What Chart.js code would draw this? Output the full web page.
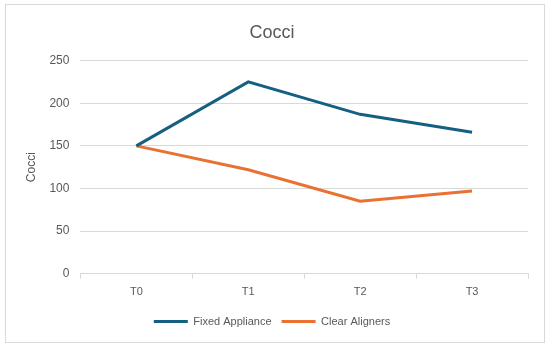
<!DOCTYPE html>
<html>
<head>
<meta charset="utf-8">
<script src="https://cdn.jsdelivr.net/npm/chart.js@4"></script>
<style>
  body { margin: 0; background: #fff; }
  #box { position: absolute; left: 5px; top: 4px; width: 538px; height: 337px; border: 1px solid #d9d9d9; }
</style>
</head>
<body>
<div id="box"><canvas id="myChart" width="538" height="337"></canvas></div>
<script>
const categories = ['T0', 'T1', 'T2', 'T3'];
const fixedAppliance = [150, 225, 187, 166];
const clearAligners = [150, 122, 85, 97];

Chart.defaults.font.family = "'Liberation Sans', Arial, sans-serif";
Chart.defaults.color = '#595959';

const ctx = document.getElementById('myChart').getContext('2d');
const myChart = new Chart(ctx, {
    type: 'line',
    data: {
        labels: categories,
        datasets: [{
            label: 'Fixed Appliance',
            data: fixedAppliance,
            borderColor: '#156082',
            backgroundColor: '#156082',
            borderWidth: 3,
            pointRadius: 0,
            tension: 0
        },
        {
            label: 'Clear Aligners',
            data: clearAligners,
            borderColor: '#E97132',
            backgroundColor: '#E97132',
            borderWidth: 3,
            pointRadius: 0,
            tension: 0
        }]
    },
    options: {
        responsive: false,
        animation: false,
        layout: { padding: { left: 10, right: 16, top: 8, bottom: 5 } },
        plugins: {
            title: {
                display: true,
                text: 'Cocci',
                font: { size: 18, weight: 'normal' },
                color: '#595959',
                padding: { top: 9, bottom: 17 }
            },
            legend: {
                position: 'bottom',
                labels: {
                    usePointStyle: true,
                    pointStyle: 'line',
                    pointStyleWidth: 34,
                    font: { size: 11 },
                    padding: 10
                }
            },
            tooltip: { enabled: false }
        },
        scales: {
            x: {
                offset: true,
                grid: { offset: true, drawOnChartArea: false, drawTicks: true, tickLength: 5, color: '#d9d9d9' },
                border: { color: '#d9d9d9' },
                ticks: { font: { size: 11 }, padding: 7 }
            },
            y: {
                min: 0,
                max: 250,
                ticks: { stepSize: 50, font: { size: 12 }, padding: 11 },
                grid: { color: '#d9d9d9', drawTicks: false },
                border: { display: false },
                title: { display: true, text: 'Cocci', font: { size: 12 }, padding: { top: 8, bottom: 0 } }
            }
        }
    }
});
</script>
</body>
</html>
